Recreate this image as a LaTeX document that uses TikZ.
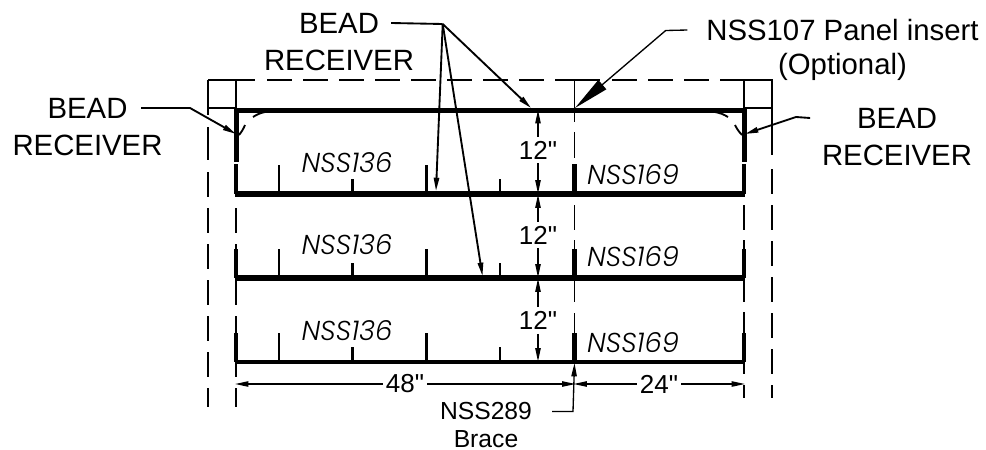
\documentclass[tikz,border=0pt]{standalone}
\usepackage{fontspec}
\setmainfont{Liberation Sans}
\newfontfamily\dimfont{Liberation Sans}
\newfontfamily\cadfont{Poppins Light Italic}
\usetikzlibrary{positioning}
\usetikzlibrary{arrows.meta}
\tikzset{
    note/.style={align=center, inner ysep=0pt, inner xsep=0pt, font=\fontsize{22}{26}\selectfont},
    small note/.style={note, font=\fontsize{18.5}{22}\selectfont},
    dim/.style={inner ysep=3pt, inner xsep=2pt, font=\dimfont\fontsize{19.5}{23}\selectfont},
    panel/.style={inner sep=0pt, font=\cadfont\fontsize{20.5}{24}\selectfont},
    thin line/.style={line width=1.4pt},
    dash line/.style={line width=1.4pt, dash pattern=on 18.75pt off 8.25pt},
    leader/.style={line width=1.4pt},
    arrow line/.style={line width=1.4pt, -{Triangle[length=10pt,width=4pt]}},
    dim line/.style={line width=1pt, -{Triangle[length=10pt,width=4pt]}},
    big arrow/.style={line width=1pt, -{Triangle[length=27pt,width=9pt]}}
}
\begin{document}
\begin{tikzpicture}[x=.75pt, y=-.75pt]
    \useasboundingbox (0,0) rectangle (986,450);

    % frame
    \draw[thin line] (208,80) -- (255,80);
    \draw[dash line] (267,80) -- (555,80);
    \draw[thin line] (555,80) -- (600,80);
    \draw[dash line] (612,80) -- (744,80);
    \draw[thin line] (744,80) -- (772,80) -- (772,108) -- (744,108);
    \draw[thin line] (208,108) -- (236,108);
    \draw[thin line] (208,80) -- (208,115);
    \draw[thin line] (236,80) -- (236,108);
    \draw[thin line] (574.5,80) -- (574.5,122);
    \draw[thin line] (744,80) -- (744,108);
    \draw[thin line] (772,108) -- (772,155);

    % uprights
    \draw[thin line] (208,127) -- (208,160);
    \foreach \x in {208,236}
        \draw[dash line] (\x,172) -- (\x,407);
    \foreach \x in {744,772}
        \draw[dash line] (\x,169) -- (\x,398);
    \draw[thin line] (574.5,132) -- (574.5,158);
    \draw[thin line] (574.5,205) -- (574.5,230);
    \draw[thin line] (574.5,240) -- (574.5,302);
    \draw[thin line] (574.5,313) -- (574.5,362);
    \draw[thin line] (236,245) -- (236,305);
    \draw[thin line] (236,317) -- (236,377);
    \draw[thin line] (744,240) -- (744,302);
    \draw[thin line] (744,312) -- (744,373);

    % studs
    \draw[line width=3.75pt] (236,108) -- (236,162);
    \draw[line width=3.75pt] (744,108) -- (744,162);
    \draw[line width=2.6pt] (236,164) -- (236,194);
    \draw[line width=2.6pt] (744,164) -- (744,194);
    \draw[line width=3.75pt] (574.5,164) -- (574.5,194);
    \foreach \y/\w in {194/4.5pt, 278/4.5pt, 362/2.7pt} {
        \draw[line width=\w] (235,\y) -- (745,\y);
    }
    \foreach \y in {278,362} {
        \draw[line width=2.6pt] (236,\y-29) -- (236,\y);
        \draw[line width=2.6pt] (744,\y-29) -- (744,\y);
        \draw[line width=3.75pt] (574.5,\y-29) -- (574.5,\y);
    }
    \foreach \y in {194,278,362} {
        \draw[line width=2.2pt] (279,\y-29) -- (279,\y);
        \draw[line width=2.2pt] (426.7,\y-29) -- (426.7,\y);
        \draw[line width=2.2pt] (352.7,\y-15) -- (352.7,\y);
        \draw[line width=2.2pt] (500,\y-15) -- (500,\y);
    }
    \draw[line width=3.75pt] (236,110) -- (744,110);

    % bead corners
    \draw[thin line] (265,112) to[bend right=10] (253,117);
    \draw[thin line] (245,125) to[bend left=8] (239,135);
    \draw[thin line] (715,112) to[bend left=10] (728,117);
    \draw[thin line] (735,125) to[bend right=8] (742,135);

    % panels
    \foreach \y in {163,245,331}
        \node[panel] (nss136_\y) at (347,\y) {NSS136};
    \foreach \y in {175,257,343}
        \node[panel] (nss169_\y) at (633,\y) {NSS169};

    % labels
    \node[note, inner xsep=9pt] (bead_top) at (339,23) {BEAD};
    \node[note] (receiver_top) [below=12pt of bead_top] {RECEIVER};
    \node[note, inner xsep=10pt] (bead_left) at (87.5,108) {BEAD};
    \node[note] (receiver_left) [below=12pt of bead_left] {RECEIVER};
    \node[note, inner xsep=35pt] (bead_right) at (897,118) {BEAD};
    \node[note] (receiver_right) [below=12pt of bead_right] {RECEIVER};
    \node[note, inner xsep=14pt] (panel_insert) at (842.5,30) {NSS107 Panel insert};
    \node[note] (optional) [below=9pt of panel_insert] {(Optional)};
    \node[small note, inner xsep=15pt] (brace_name) at (486,411.5) {NSS289};
    \node[small note] (brace_text) [below=7pt of brace_name] {Brace};

    % leaders
    \coordinate (top_knee) at (442.7,24);
    \coordinate (top_end_a) at (531,108);
    \coordinate (top_end_b) at (436,191);
    \coordinate (top_end_c) at (482.5,276);
    \draw[leader] (bead_top.east) -- (top_knee);
    \draw[arrow line] (top_knee) -- (top_end_a);
    \draw[arrow line] (top_knee) -- (top_end_b);
    \draw[arrow line] (top_knee) -- (top_end_c);

    \coordinate (left_knee) at (190,108);
    \coordinate (left_end) at (236,134);
    \draw[arrow line] (bead_left.east) -- (left_knee) -- (left_end);

    \coordinate (right_knee) at (796,117);
    \coordinate (right_end) at (745,134);
    \draw[arrow line] (bead_right.west) -- (right_knee) -- (right_end);

    \coordinate (insert_knee) at (665.7,30.5);
    \coordinate (insert_end) at (575,108);
    \draw[big arrow] (panel_insert.west) -- (insert_knee) -- (insert_end);

    \coordinate (brace_knee) at (573,411.5);
    \coordinate (brace_end) at (574.5,363);
    \draw[dim line] (brace_name.east) -- (brace_knee) -- (brace_end);

    % dimensions
    \foreach \n/\y/\a/\b in {one/150/110/193.5, two/235/194.5/277.5, three/320.5/278.5/361.5} {
        \node[dim] (dim_\n) at (538,\y) {12"};
        \coordinate (dim_\n_a) at (538,\a);
        \coordinate (dim_\n_b) at (538,\b);
        \draw[dim line] (dim_\n) -- (dim_\n_a);
        \draw[dim line] (dim_\n) -- (dim_\n_b);
    }
    \node[dim] (dim_48) at (405,384) {48"};
    \node[dim] (dim_24) at (659,384) {24"};
    \coordinate (dim_48_l) at (235,384);
    \coordinate (dim_48_r) at (575.5,384);
    \coordinate (dim_24_l) at (573.5,384);
    \coordinate (dim_24_r) at (745,384);
    \draw[dim line] (dim_48) -- (dim_48_l);
    \draw[dim line] (dim_48) -- (dim_48_r);
    \draw[dim line] (dim_24) -- (dim_24_l);
    \draw[dim line] (dim_24) -- (dim_24_r);
\end{tikzpicture}
\end{document}
